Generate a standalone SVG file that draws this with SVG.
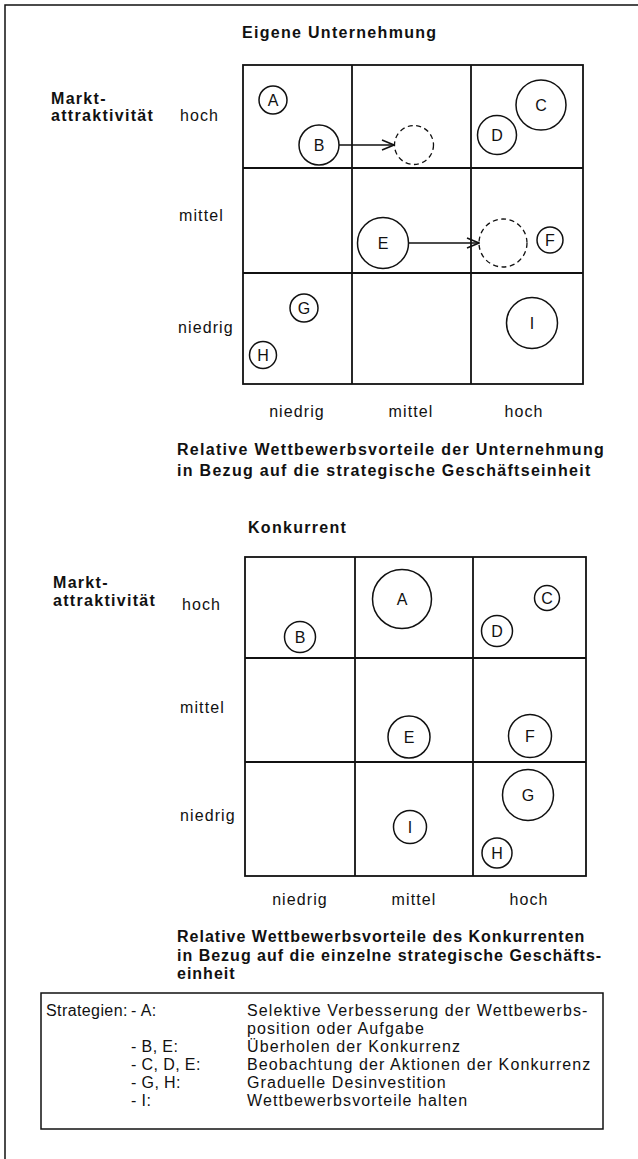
<svg xmlns="http://www.w3.org/2000/svg" width="638" height="1159" viewBox="0 0 638 1159">
<defs>
<style>
text{font-family:"Liberation Sans",Arial,sans-serif;fill:#111;}
.b{font-weight:bold;font-size:16px;letter-spacing:1.3px;}
.b2{font-weight:bold;font-size:16px;letter-spacing:1.0px;}
.r{font-size:16px;letter-spacing:1.1px;}
.s{font-size:16px;letter-spacing:0.4px;}
.c{font-size:16px;text-anchor:middle;}
.m{text-anchor:middle;}
.grid{fill:none;stroke:#111;stroke-width:1.8;}
.node circle{fill:none;stroke:#111;stroke-width:1.5;}
.ghost circle{fill:none;stroke:#111;stroke-width:1.3;stroke-dasharray:5 3.5;}
.conn line{stroke:#111;stroke-width:1.5;}
</style>
<marker id="arr" viewBox="0 0 14 12" refX="13" refY="6" markerWidth="14" markerHeight="12" markerUnits="userSpaceOnUse" orient="auto">
<path d="M1,1 L13,6 L1,11" fill="none" stroke="#111" stroke-width="1.5"/>
</marker>
</defs>
<rect width="638" height="1159" fill="#fff"/>
<path d="M5,1159 V5 H638" fill="none" stroke="#111" stroke-width="1.5"/>

<g id="matrix-top">
<text class="b" x="242" y="38">Eigene Unternehmung</text>
<text class="b" x="51" y="104">Markt-</text>
<text class="b" x="51" y="121">attraktivität</text>
<text class="r" x="180" y="121">hoch</text>
<text class="r" x="179" y="221">mittel</text>
<text class="r" x="178" y="333">niedrig</text>
<rect class="grid" x="243" y="65" width="340" height="319"/>
<line class="grid" x1="352" y1="65" x2="352" y2="384"/>
<line class="grid" x1="471" y1="65" x2="471" y2="384"/>
<line class="grid" x1="243" y1="168" x2="583" y2="168"/>
<line class="grid" x1="243" y1="273" x2="583" y2="273"/>
<text class="r m" x="297" y="417">niedrig</text>
<text class="r m" x="411" y="417">mittel</text>
<text class="r m" x="524" y="417">hoch</text>
<text class="b" x="177" y="455">Relative Wettbewerbsvorteile der Unternehmung</text>
<text class="b" x="177" y="476">in Bezug auf die strategische Geschäftseinheit</text>
</g>

<g id="top-A" class="node"><circle cx="273" cy="100" r="14"/><text class="c" x="273" y="106">A</text></g>
<g id="top-B" class="node"><circle cx="319" cy="145" r="20"/><text class="c" x="319" y="151">B</text></g>
<g id="top-B-target" class="ghost"><circle cx="414" cy="145" r="19.5"/></g>
<g id="top-C" class="node"><circle cx="541" cy="105" r="25"/><text class="c" x="541" y="111">C</text></g>
<g id="top-D" class="node"><circle cx="497" cy="135" r="19.5"/><text class="c" x="497" y="141">D</text></g>
<g id="top-E" class="node"><circle cx="383" cy="243" r="25.5"/><text class="c" x="383" y="249">E</text></g>
<g id="top-E-target" class="ghost"><circle cx="503" cy="243" r="24"/></g>
<g id="top-F" class="node"><circle cx="550" cy="240" r="13"/><text class="c" x="550" y="246">F</text></g>
<g id="top-G" class="node"><circle cx="304" cy="308" r="14"/><text class="c" x="304" y="314">G</text></g>
<g id="top-H" class="node"><circle cx="263" cy="355" r="13.5"/><text class="c" x="263" y="361">H</text></g>
<g id="top-I" class="node"><circle cx="532" cy="323" r="25.5"/><text class="c" x="532" y="329">I</text></g>

<g id="connectors" class="conn">
<line x1="339" y1="145" x2="394" y2="145" marker-end="url(#arr)"/>
<line x1="409" y1="243" x2="479" y2="243" marker-end="url(#arr)"/>
</g>

<g id="matrix-bottom">
<text class="b" x="248" y="533">Konkurrent</text>
<text class="b" x="53" y="588">Markt-</text>
<text class="b" x="53" y="606">attraktivität</text>
<text class="r" x="182" y="610">hoch</text>
<text class="r" x="180" y="713">mittel</text>
<text class="r" x="180" y="821">niedrig</text>
<rect class="grid" x="245" y="557" width="341" height="319"/>
<line class="grid" x1="355" y1="557" x2="355" y2="876"/>
<line class="grid" x1="473" y1="557" x2="473" y2="876"/>
<line class="grid" x1="245" y1="658" x2="586" y2="658"/>
<line class="grid" x1="245" y1="762" x2="586" y2="762"/>
<text class="r m" x="300" y="905">niedrig</text>
<text class="r m" x="414" y="905">mittel</text>
<text class="r m" x="529" y="905">hoch</text>
<text class="b2" x="177" y="942">Relative Wettbewerbsvorteile des Konkurrenten</text>
<text class="b2" x="177" y="961">in Bezug auf die einzelne strategische Geschäfts-</text>
<text class="b2" x="177" y="979">einheit</text>
</g>

<g id="bot-A" class="node"><circle cx="402" cy="599" r="29.5"/><text class="c" x="402" y="605">A</text></g>
<g id="bot-B" class="node"><circle cx="300" cy="637" r="15.5"/><text class="c" x="300" y="643">B</text></g>
<g id="bot-C" class="node"><circle cx="547" cy="598" r="12.5"/><text class="c" x="547" y="604">C</text></g>
<g id="bot-D" class="node"><circle cx="497" cy="631" r="15.5"/><text class="c" x="497" y="637">D</text></g>
<g id="bot-E" class="node"><circle cx="409" cy="737" r="21"/><text class="c" x="409" y="743">E</text></g>
<g id="bot-F" class="node"><circle cx="530" cy="736" r="21.5"/><text class="c" x="530" y="742">F</text></g>
<g id="bot-G" class="node"><circle cx="528" cy="795" r="25.5"/><text class="c" x="528" y="801">G</text></g>
<g id="bot-I" class="node"><circle cx="410" cy="827" r="16.5"/><text class="c" x="410" y="833">I</text></g>
<g id="bot-H" class="node"><circle cx="497" cy="853" r="15"/><text class="c" x="497" y="859">H</text></g>

<g id="legend">
<rect x="41" y="993" width="562" height="136" fill="none" stroke="#111" stroke-width="1.5"/>
<text class="s" x="46" y="1016">Strategien:</text>
<text class="s" x="131" y="1016">- A:</text>
<text class="r" x="247" y="1016">Selektive Verbesserung der Wettbewerbs-</text>
<text class="r" x="247" y="1034">position oder Aufgabe</text>
<text class="s" x="131" y="1052">- B, E:</text>
<text class="r" x="247" y="1052">Überholen der Konkurrenz</text>
<text class="s" x="131" y="1070">- C, D, E:</text>
<text class="r" x="247" y="1070">Beobachtung der Aktionen der Konkurrenz</text>
<text class="s" x="131" y="1088">- G, H:</text>
<text class="r" x="247" y="1088">Graduelle Desinvestition</text>
<text class="s" x="131" y="1106">- I:</text>
<text class="r" x="247" y="1106">Wettbewerbsvorteile halten</text>
</g>
</svg>
